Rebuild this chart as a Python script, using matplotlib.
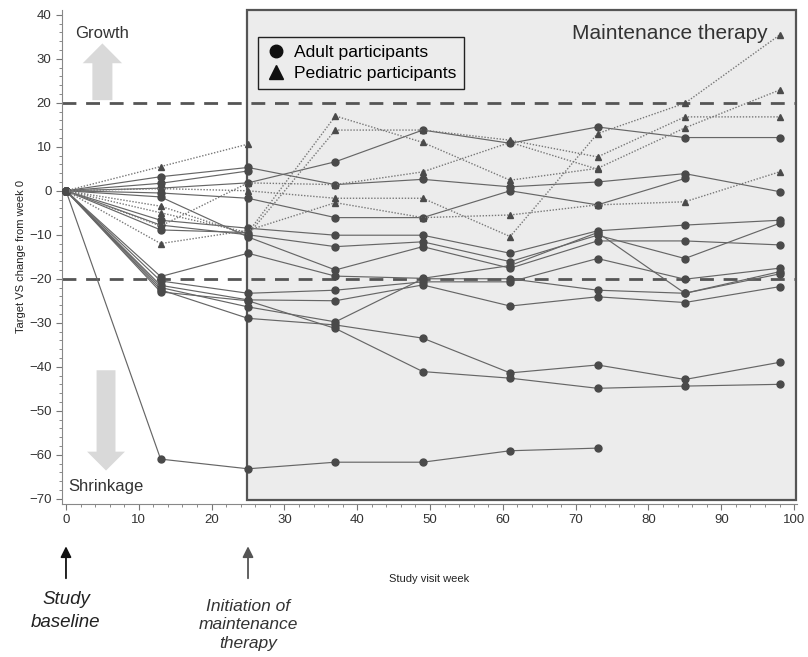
import numpy as np
import matplotlib
matplotlib.use("Agg")
import matplotlib.pyplot as plt
from matplotlib.patches import Rectangle, FancyArrow
from matplotlib.lines import Line2D
from matplotlib.ticker import MultipleLocator

plt.rcParams['font.family'] = ['Liberation Sans', 'DejaVu Sans']

nan = np.nan
weeks = [0, 13, 25, 37, 49, 61, 73, 85, 98]

# adult participants (circles, solid)
adult_01 = [0, -61.0, -63.2, -61.7, -61.7, -59.1, -58.5, nan, nan]
adult_02 = [0, -22.5, -29.0, -30.5, -33.5, -41.4, -39.6, -42.9, -39.0]
adult_03 = [0, -23.0, -25.0, -31.3, -41.1, -42.6, -44.9, -44.4, -44.0]
adult_04 = [0, 0.6, 1.8, 6.6, 13.8, 10.8, 14.5, 12.1, 12.1]
adult_05 = [0, 3.2, 5.3, 1.4, 2.6, 0.9, 2.0, 3.9, -0.2]
adult_06 = [0, -0.5, -1.7, -6.1, -6.1, 0.0, -3.2, 2.8, nan]
adult_07 = [0, 1.7, 4.5, nan, nan, nan, nan, nan, nan]
adult_08 = [0, -6.7, -8.5, -10.1, -10.1, -14.2, -9.1, -7.8, -6.7]
adult_09 = [0, -7.8, -10.0, -12.7, -11.6, -16.1, -10.1, -15.4, -7.4]
adult_10 = [0, -1.4, -10.5, -18.0, -12.7, -17.6, -11.4, -11.4, -12.3]
adult_11 = [0, -19.5, -14.2, -19.4, -19.9, -17.0, -9.5, -23.3, -18.4]
adult_12 = [0, -20.5, -23.3, -22.6, -20.7, -20.7, -15.4, -20.1, -17.6]
adult_13 = [0, -21.5, -24.8, -25.0, -21.4, -26.2, -24.1, -25.4, -21.8]
adult_14 = [0, -22.0, -26.4, -29.8, -20.0, -20.0, -22.6, -23.3, -18.9]
adult_15 = [0, -8.9, -9.5, nan, nan, nan, nan, nan, nan]

# pediatric participants (triangles, dotted)
ped_01 = [0, 5.5, 10.6, nan, nan, nan, nan, nan, nan]
ped_02 = [0, -5.0, -9.5, 17.0, 11.0, 2.4, 5.1, 14.3, 22.9]
ped_03 = [0, -3.5, -10.0, 13.8, 13.8, 11.5, 7.7, 16.8, 16.8]
ped_04 = [0, -12.0, -9.0, -2.7, -6.1, -5.5, -3.2, -2.5, 4.3]
ped_05 = [0, 0.5, 0.0, -1.7, -1.7, -10.4, 13.0, 19.9, 35.4]
ped_06 = [0, -8.0, 1.8, 1.4, 4.3, 11.0, 4.9, nan, nan]

adults = [adult_01, adult_02, adult_03, adult_04, adult_05, adult_06, adult_07,
          adult_08, adult_09, adult_10, adult_11, adult_12, adult_13, adult_14, adult_15]
peds = [ped_01, ped_02, ped_03, ped_04, ped_05, ped_06]

fig = plt.figure(figsize=(8.08, 6.57), dpi=100)
ax = fig.add_axes([0.0767, 0.2329, 0.9097, 0.7519])

# maintenance therapy box
ax.add_patch(Rectangle((24.9, -70.3), 75.3, 111.4, facecolor='#ececec',
                       edgecolor='#555555', lw=1.6, zorder=0, clip_on=False))

dark = '#4a4a4a'
for s in adults:
    ax.plot(weeks, s, '-', color='#666666', lw=0.85, marker='o', ms=5,
            mfc=dark, mec=dark, zorder=3)
for s in peds:
    ax.plot(weeks, s, ls=(0, (1, 1.2)), color='#777777', lw=1.0, marker='^', ms=5,
            mfc=dark, mec=dark, zorder=3)

ax.axhline(20, color='#555555', lw=2, ls=(0, (5, 3.5)), zorder=2)
ax.axhline(-20, color='#555555', lw=2, ls=(0, (5, 3.5)), zorder=2)

# growth / shrinkage arrows
ax.add_patch(FancyArrow(5.0, 20.6, 0, 12.9, width=2.75, head_width=5.4,
                        head_length=4.5, length_includes_head=True,
                        color='#d9d9d9', lw=0, zorder=1))
ax.add_patch(FancyArrow(5.5, -40.8, 0, -22.8, width=2.6, head_width=5.2,
                        head_length=4.3, length_includes_head=True,
                        color='#d9d9d9', lw=0, zorder=1))
ax.text(1.2, 35.8, 'Growth', fontsize=12, color='#333333', va='center')
ax.text(0.3, -67.3, 'Shrinkage', fontsize=12, color='#333333', va='center')
ax.text(96.4, 35.8, 'Maintenance therapy', fontsize=15, color='#333333',
        ha='right', va='center')

ax.set_xlim(-0.55, 100.4)
ax.set_ylim(-71.2, 41.1)
ax.xaxis.set_major_locator(MultipleLocator(10))
ax.xaxis.set_minor_locator(MultipleLocator(2))
ax.yaxis.set_major_locator(MultipleLocator(10))
ax.yaxis.set_minor_locator(MultipleLocator(2))
ax.tick_params(which='both', color='#777777', labelsize=9.5, labelcolor='#333333')
ax.tick_params(which='major', length=4)
ax.tick_params(which='minor', length=2.5)
for side in ['top', 'right']:
    ax.spines[side].set_visible(False)
for side in ['left', 'bottom']:
    ax.spines[side].set_color('#888888')
    ax.spines[side].set_linewidth(0.8)

ax.set_xlabel('Study visit week', fontsize=8, color='#222222', labelpad=34)
ax.set_ylabel('Target VS change from week 0', fontsize=8, color='#222222', labelpad=2)

handles = [Line2D([], [], ls='none', marker='o', ms=9, color='#111111'),
           Line2D([], [], ls='none', marker='^', ms=10, color='#111111')]
leg = ax.legend(handles, ['Adult participants', 'Pediatric participants'],
                loc='upper left', bbox_to_anchor=(258 / 808, 1 - 37 / 657),
                bbox_transform=fig.transFigure, fontsize=12.6, frameon=True,
                fancybox=False, edgecolor='#222222', facecolor='#ececec',
                framealpha=1, handletextpad=0.4, borderpad=0.45, labelspacing=0.3,
                handlelength=1.2, borderaxespad=0)
leg.get_frame().set_linewidth(1.0)

# annotations below the axis
trans = ax.get_xaxis_transform()
ax.annotate('', xy=(0, -0.08), xytext=(0, -0.156), xycoords=trans,
            textcoords=trans, arrowprops=dict(arrowstyle='-|>', color='#111111',
                                              lw=1.3, mutation_scale=16))
ax.annotate('', xy=(25, -0.08), xytext=(25, -0.156), xycoords=trans,
            textcoords=trans, arrowprops=dict(arrowstyle='-|>', color='#555555',
                                              lw=1.3, mutation_scale=16))
ax.text(0, -0.176, 'Study\nbaseline', transform=trans, ha='center', va='top',
        fontsize=13.5, style='italic', color='#222222', linespacing=1.45)
ax.text(25, -0.192, 'Initiation of\nmaintenance\ntherapy', transform=trans,
        ha='center', va='top', fontsize=12.5, style='italic', color='#333333',
        linespacing=1.3)

fig.savefig('out.png', dpi=100, facecolor='white')
